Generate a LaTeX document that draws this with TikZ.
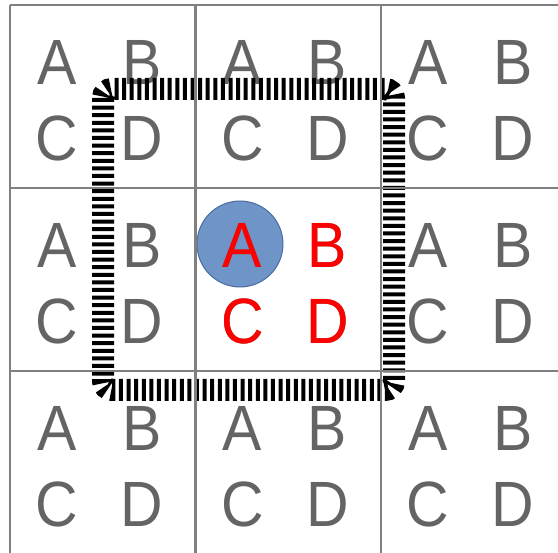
\documentclass[tikz,border=0pt]{standalone}
\usepackage{fontspec}
\setmainfont{Liberation Sans}
\usepackage{tikz}
\usetikzlibrary{calc}
\definecolor{gridgray}{RGB}{128,128,128}
\definecolor{lettergray}{RGB}{100,100,100}
\definecolor{dotblue}{RGB}{111,148,200}
\definecolor{dotedge}{RGB}{74,108,160}

\begin{document}
\begin{tikzpicture}[x=1pt,y=-1pt,
  letter/.style={inner sep=0pt,xscale=0.92,text=lettergray,font=\fontsize{64}{64}\selectfont},
  hot/.style={letter,text=red},
  gridline/.style={draw=gridgray,line width=2.2pt},
  frame/.style={draw=black,line width=22pt,dash pattern=on 4pt off 3.6pt,rounded corners=9pt}
]
\useasboundingbox (0,0) rectangle (558,553);
% blue marker under the centre A
\node[circle,fill=dotblue,draw=dotedge,line width=1pt,minimum size=86pt,inner sep=0pt] (dot) at (240,244) {};
% letters in every cell
\foreach \c in {0,1,2}{
  \foreach \r in {0,1,2}{
    \node[letter] (a\c\r) at ({10+185.5*\c+47},{5+183*\r+57}) {A};
    \node[letter] (b\c\r) at ({10+185.5*\c+132},{5+183*\r+57}) {B};
    \node[letter] (c\c\r) at ({10+185.5*\c+47},{5+183*\r+133}) {C};
    \node[letter] (d\c\r) at ({10+185.5*\c+132},{5+183*\r+133}) {D};
  }
}
% centre cell in red
\node[hot] at (a11) {A};
\node[hot] at (b11) {B};
\node[hot] at (c11) {C};
\node[hot] at (d11) {D};
% dashed window
\draw[frame] (103,89) rectangle (394,390);
% grid
\foreach \x in {10,195.5,381}
  \draw[gridline] (\x,5) -- (\x,553);
\foreach \y in {5,188,371}
  \draw[gridline] (10,\y) -- (558,\y);
\end{tikzpicture}
\end{document}
